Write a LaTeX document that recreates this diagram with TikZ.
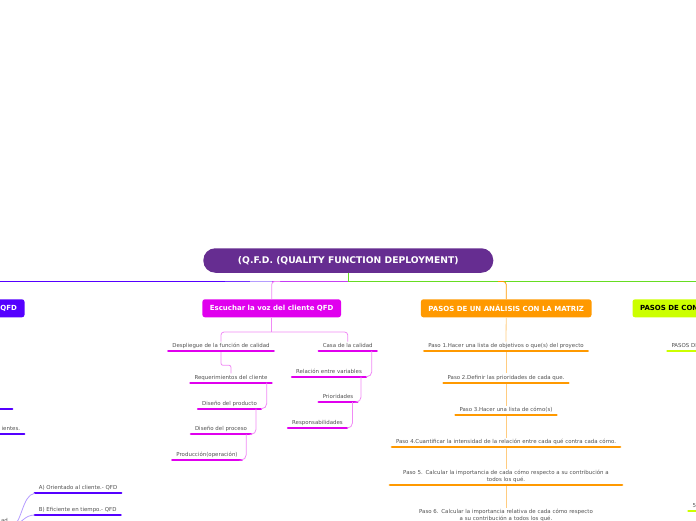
\documentclass[tikz,border=0pt]{standalone}
\usepackage{fontspec}
\setmainfont{DejaVu Sans}
\usepackage{tikz}

\definecolor{qroot}{HTML}{662D91}
\definecolor{qblue}{HTML}{5500FF}
\definecolor{qmag}{HTML}{E000EE}
\definecolor{qorange}{HTML}{FF9900}
\definecolor{qlime}{HTML}{CCFF00}
\definecolor{qgreen}{HTML}{66DD22}
\definecolor{qgray}{HTML}{505050}
\definecolor{qmaglt}{HTML}{F08AF5}
\definecolor{qorangelt}{HTML}{FFCC80}
\definecolor{qbluelt}{HTML}{B59CFF}
\definecolor{qviolet}{HTML}{C43CF5}

\begin{document}
\begin{tikzpicture}[x=1pt, y=-1pt,
  every node/.style={font=\fontsize{5.45}{7}\selectfont, text=qgray},
  root/.style={fill=qroot, rounded corners=12pt, minimum width=290pt, minimum height=24.5pt,
    text=white, font=\fontsize{9.2}{11}\selectfont\bfseries},
  branch/.style={fill=#1, rounded corners=2.5pt, minimum height=18pt, inner xsep=7.5pt,
    text=white, font=\fontsize{7}{8}\selectfont\bfseries},
  topic/.style={anchor=south, inner xsep=4pt, inner ysep=2pt, text height=3.8pt, text depth=1.2pt,
    append after command={(\tikzlastnode.south west) edge[draw=#1, line width=2.2pt, line cap=round] (\tikzlastnode.south east)}},
  twolines/.style={align=center, text depth=8.2pt},
  mline/.style={draw=qmaglt, line width=0.8pt},
  oline/.style={draw=qorangelt, line width=0.8pt},
  bline/.style={draw=qbluelt, line width=0.8pt},
  trunk/.style={line width=1.1pt}]
\useasboundingbox (0,0) rectangle (696,520);
\clip (0,0) rectangle (696,520);

\node[root] (qfd) at (348.3,260.5) {(Q.F.D. (QUALITY FUNCTION DEPLOYMENT)};
\coordinate (hub) at (348.3,281.5);

% trunk
\draw[trunk, qblue] (-5,281.5) -- (225,281.5);
\draw[trunk, qblue!70!qbluelt] (225,281.5) -- (250,281.5);
\draw[trunk, qbluelt] (250,281.5) -- (272,281.5);
\draw[trunk, qviolet] (272,281.5) -- (hub);
\draw[trunk, qgreen] (qfd.south) -- (hub) -- (700,281.5);

% branches
\node[branch=qblue, anchor=east] (enfoque) at (24.7,308.3) {QFD};
\node[branch=qmag] (escuchar) at (271.7,308.3) {Escuchar la voz del cliente QFD};
\node[branch=qorange] (pasos) at (506.2,308.3) {PASOS DE UN ANÁLISIS CON LA MATRIZ};
\node[branch=qlime, text=black, anchor=west] (construir) at (632.3,308.3) {PASOS DE CON};

\draw[mline, rounded corners=3pt] (280,281.5) -| (escuchar.north);
\draw[draw=qorange, line width=0.8pt, rounded corners=3pt] (498,281.5) -| (pasos.north);

% escuchar la voz del cliente
\node[topic=qmag] (despliegue) at (221,351) {Despliegue de la función de calidad};
\node[topic=qmag] (casa) at (347.7,351) {Casa de la calidad};
\node[topic=qmag] (requerim) at (231,382.7) {Requerimientos del cliente};
\node[topic=qmag] (producto) at (229.5,408.7) {Diseño del producto};
\node[topic=qmag] (proceso) at (221,434.3) {Diseño del proceso};
\node[topic=qmag] (produccion) at (207,460) {Producción(operación)};
\node[topic=qmag] (relacion) at (329,376.7) {Relación entre variables};
\node[topic=qmag] (priorid) at (338,402) {Prioridades};
\node[topic=qmag] (respons) at (317.5,428) {Responsabilidades};

\draw[mline] (escuchar.south) -- ++(0,14.5) coordinate (split);
\draw[mline, rounded corners=3pt] (split) -| (despliegue.north);
\draw[mline, rounded corners=3pt] (split) -| (casa.north);
\draw[mline, rounded corners=2pt] ([yshift=-1pt]despliegue.south) |- ([yshift=8pt]requerim.north) -- (requerim.north);
\draw[mline, rounded corners=5pt] ([xshift=-5pt]requerim.south east) |- (producto.south east);
\draw[mline, rounded corners=5pt] ([xshift=-5pt]producto.south east) |- (proceso.south east);
\draw[mline, rounded corners=5pt] ([xshift=-5pt]proceso.south east) |- (produccion.south east);
\draw[mline, rounded corners=5pt] ([xshift=-5pt]casa.south east) |- (relacion.south east);
\draw[mline, rounded corners=5pt] ([xshift=-5pt]relacion.south east) |- (priorid.south east);
\draw[mline, rounded corners=5pt] ([xshift=-5pt]priorid.south east) |- (respons.south east);

% pasos de un analisis
\node[topic=qorange] (paso1) at (506,351) {Paso 1.Hacer una lista de objetivos o que(s) del proyecto};
\node[topic=qorange] (paso2) at (506,382.7) {Paso 2.Definir las prioridades de cada que.};
\node[topic=qorange] (paso3) at (506,415) {Paso 3.Hacer una lista de cómo(s)};
\node[topic=qorange] (paso4) at (506,447.3) {Paso 4.Cuantificar la intensidad de la relación entre cada qué contra cada cómo.};
\node[topic=qorange, twolines, text width=224pt] (paso5) at (506,485.3)
  {Paso 5. Calcular la importancia de cada cómo respecto a su contribución a\\ todos los qué.};
\node[topic=qorange, twolines, text width=180pt] (paso6) at (506,524.3)
  {Paso 6. Calcular la importancia relativa de cada cómo respecto\\ a su contribución a todos los qué.};

\draw[oline] (pasos.south) -- (paso1.north);
\draw[oline, shorten <=1.1pt] (paso1.south) -- (paso2.north);
\draw[oline, shorten <=1.1pt] (paso2.south) -- (paso3.north);
\draw[oline, shorten <=1.1pt] (paso3.south) -- (paso4.north);
\draw[oline, shorten <=1.1pt] (paso4.south) -- (paso5.north);
\draw[oline, shorten <=1.1pt] (paso5.south) -- (paso6.north);

% pasos de con...
\node[topic=qlime, anchor=south west] (pasosd) at (667.3,351) {PASOS DE};
\node[topic=qlime, anchor=south west] (cinco) at (688.3,511) {5.};

% QFD (left)
\node[topic=qblue, anchor=south east, minimum width=30pt] (azul1) at (12.3,408.7) {};
\node[topic=qblue, anchor=south east] (azul2) at (24.3,434.3) {ientes.};
\node[topic=qblue] (orientado) at (78,493.3) {A) Orientado al cliente.- QFD};
\node[topic=qblue] (eficiente) at (77.7,515) {B) Eficiente en tiempo.- QFD};
\node[topic=qblue, anchor=south east] (calidad) at (12,526) {ad};

\draw[bline] (calidad.south east) .. controls (22,524) and (22,495) .. (orientado.south west);
\draw[bline] (calidad.south east) .. controls (22,524) and (24,515) .. (eficiente.south west);
\end{tikzpicture}
\end{document}
